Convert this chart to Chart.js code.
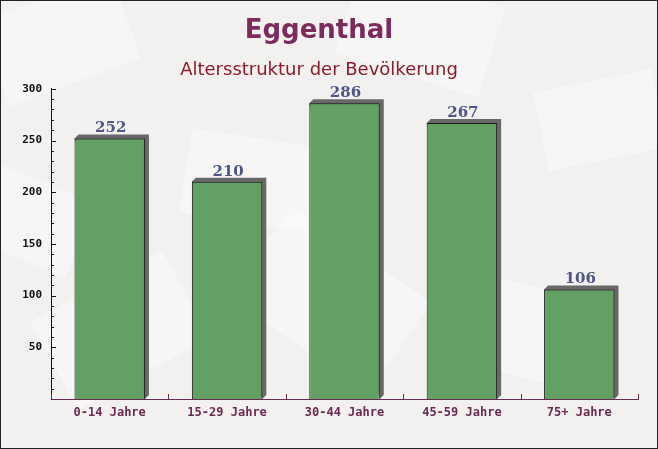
<!DOCTYPE html>
<html>
<head>
<meta charset="utf-8">
<script src="https://cdn.jsdelivr.net/npm/chart.js@4"></script>
<style>
html,body{margin:0;padding:0;background:#f4f1f1;}
#wrap{width:658px;height:449px;position:relative;}
</style>
</head>
<body>
<div id="wrap"><canvas id="c" width="658" height="449"></canvas></div>
<script>
const chartTitle = "Eggenthal";
const chartSubtitle = "Altersstruktur der Bevölkerung";
const categories = ["0-14 Jahre", "15-29 Jahre", "30-44 Jahre", "45-59 Jahre", "75+ Jahre"];
const values = [252, 210, 286, 267, 106];
const yMin = 0, yMax = 300, yMajorStep = 50, yMinorStep = 10;

const bgPlugin = {
  id: 'bg',
  beforeDraw(chart) {
    const ctx = chart.ctx;
    ctx.save();
    ctx.fillStyle = '#f3f0f0';
    ctx.fillRect(0, 0, chart.width, chart.height);
    const shapes = [
      [60, 40, 140, 90, -0.35], [420, 30, 150, 95, 0.3], [600, 120, 120, 80, -0.2],
      [330, 300, 170, 110, 0.6], [120, 330, 150, 100, -0.5], [520, 330, 140, 90, 0.25],
      [250, 180, 130, 85, 0.15], [30, 220, 110, 80, 0.4]
    ];
    ctx.fillStyle = 'rgba(255,255,255,0.35)';
    shapes.forEach(s => {
      ctx.save();
      ctx.translate(s[0], s[1]);
      ctx.rotate(s[4]);
      ctx.fillRect(-s[2]/2, -s[3]/2, s[2], s[3]);
      ctx.restore();
    });
    ctx.restore();
  },
  afterDraw(chart) {
    const ctx = chart.ctx;
    ctx.save();
    ctx.strokeStyle = '#222';
    ctx.lineWidth = 1;
    ctx.strokeRect(0.5, 0.5, chart.width - 1, chart.height - 1);
    ctx.restore();
  }
};

const barDecor = {
  id: 'barDecor',
  beforeDatasetsDraw(chart) {
    const ctx = chart.ctx;
    const meta = chart.getDatasetMeta(0);
    const d = 4;
    ctx.save();
    ctx.fillStyle = '#686868';
    meta.data.forEach(el => {
      const l = el.x - el.width / 2, r = el.x + el.width / 2;
      ctx.beginPath();
      ctx.moveTo(l, el.y);
      ctx.lineTo(l + d, el.y - d);
      ctx.lineTo(r + d, el.y - d);
      ctx.lineTo(r + d, el.base - d);
      ctx.lineTo(r, el.base);
      ctx.closePath();
      ctx.fill();
    });
    ctx.restore();
  },
  afterDatasetsDraw(chart) {
    const ctx = chart.ctx;
    const meta = chart.getDatasetMeta(0);
    ctx.save();
    ctx.font = 'bold 15px "DejaVu Serif"';
    ctx.fillStyle = '#4f5787';
    ctx.textAlign = 'center';
    ctx.textBaseline = 'alphabetic';
    meta.data.forEach((el, i) => {
      ctx.fillText(String(values[i]), el.x + 1, el.y - 6);
    });
    const ys = chart.scales.y, xs = chart.scales.x, area = chart.chartArea;
    ctx.strokeStyle = '#111';
    ctx.lineWidth = 1;
    ys.ticks.forEach(t => {
      if (t.value === 0) return;
      const py = Math.round(ys.getPixelForValue(t.value)) + 0.5;
      const len = (t.value % yMajorStep === 0) ? 5 : 3;
      ctx.beginPath();
      ctx.moveTo(area.left, py);
      ctx.lineTo(area.left + len, py);
      ctx.stroke();
    });
    ctx.strokeStyle = '#6b2a52';
    const n = categories.length;
    for (let i = 0; i <= n; i++) {
      let px;
      if (i === 0) px = area.left;
      else if (i === n) px = area.right;
      else px = (xs.getPixelForTick(i - 1) + xs.getPixelForTick(i)) / 2;
      px = Math.round(px) + 0.5;
      ctx.beginPath();
      ctx.moveTo(px, area.bottom);
      ctx.lineTo(px, area.bottom - 5);
      ctx.stroke();
    }
    ctx.restore();
  }
};

new Chart(document.getElementById('c'), {
  type: 'bar',
  data: {
    labels: categories,
    datasets: [{
      data: values,
      backgroundColor: '#62a064',
      borderColor: '#1a1a1a',
      borderWidth: {top: 1, left: 1, right: 1, bottom: 0},
      borderSkipped: false,
      categoryPercentage: 1.0,
      barPercentage: 0.6
    }]
  },
  options: {
    responsive: false,
    animation: false,
    devicePixelRatio: 1,
    layout: {padding: {left: 0, right: 20, top: 0, bottom: 0}},
    plugins: {
      legend: {display: false},
      tooltip: {enabled: false},
      title: {
        display: true,
        text: chartTitle,
        color: '#7b2c5c',
        font: {family: '"DejaVu Sans"', size: 26, weight: 'bold'},
        padding: {top: 16, bottom: 12}
      },
      subtitle: {
        display: true,
        text: chartSubtitle,
        color: '#8c1b2b',
        font: {family: '"DejaVu Sans"', size: 18, weight: 'normal'},
        padding: {top: 0, bottom: 8}
      }
    },
    scales: {
      x: {
        grid: {display: false, drawTicks: false},
        border: {display: true, color: '#6b2a52', width: 1},
        ticks: {
          color: '#6b2a52',
          font: {family: '"DejaVu Sans Mono"', size: 12, weight: 'bold'},
          padding: 7,
          maxRotation: 0
        },
        afterFit(scale) { scale.height = 50; }
      },
      y: {
        min: yMin,
        max: yMax,
        grid: {display: false, drawTicks: false},
        border: {display: true, color: '#111', width: 1},
        ticks: {
          stepSize: yMinorStep,
          autoSkip: false,
          color: '#111',
          font: {family: '"DejaVu Sans Mono"', size: 11, weight: 'bold'},
          padding: 9,
          callback(v) { return (v !== 0 && v % yMajorStep === 0) ? String(v) : ''; }
        },
        afterFit(scale) { scale.width = 51; }
      }
    }
  },
  plugins: [bgPlugin, barDecor]
});
</script>
</body>
</html>
